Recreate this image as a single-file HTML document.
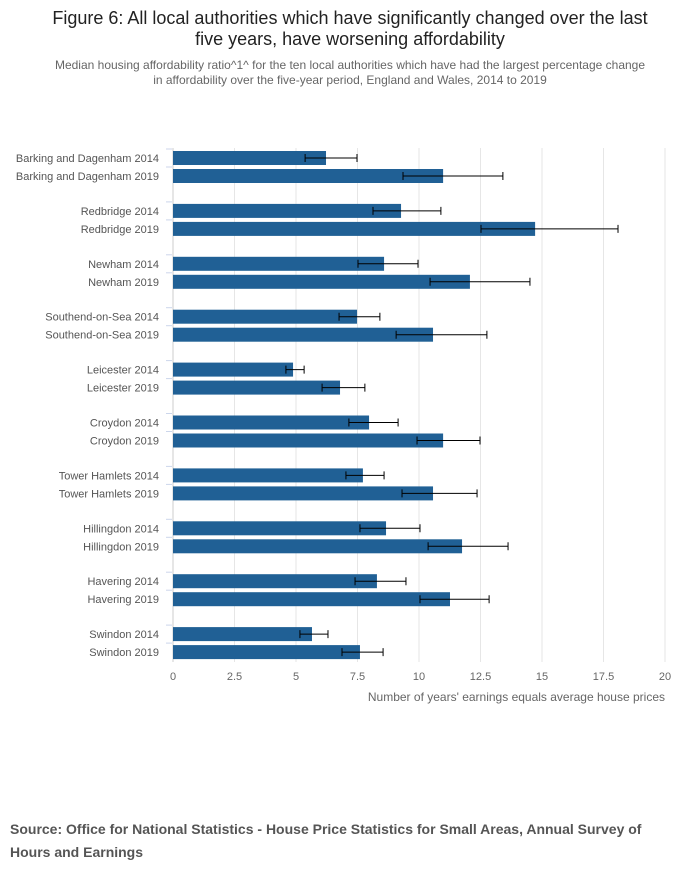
<!DOCTYPE html>
<html><head><meta charset="utf-8"><style>
body{margin:0;background:#fff;font-family:"Liberation Sans",sans-serif;}
#wrap{position:relative;width:700px;height:882px;overflow:hidden;}
</style></head><body>
<div id="wrap">
<svg id="chart" width="700" height="882">
<text x="350" y="24" text-anchor="middle" font-size="18" fill="#222">Figure 6: All local authorities which have significantly changed over the last</text>
<text x="350" y="45" text-anchor="middle" font-size="18" fill="#222">five years, have worsening affordability</text>
<text x="350" y="69" text-anchor="middle" font-size="12" fill="#666">Median housing affordability ratio^1^ for the ten local authorities which have had the largest percentage change</text>
<text x="350" y="84" text-anchor="middle" font-size="12" fill="#666">in affordability over the five-year period, England and Wales, 2014 to 2019</text>
<g id="grid"></g><g id="bars"></g><g id="labels"></g>
<text x="665" y="701" text-anchor="end" font-size="12" fill="#666">Number of years' earnings equals average house prices</text>
<text x="10" y="834" font-size="14" font-weight="bold" fill="#555">Source: Office for National Statistics - House Price Statistics for Small Areas, Annual Survey of</text>
<text x="10" y="857" font-size="14" font-weight="bold" fill="#555">Hours and Earnings</text>
</svg></div>
<script>
const categories=["Barking and Dagenham","Redbridge","Newham","Southend-on-Sea","Leicester","Croydon","Tower Hamlets","Hillingdon","Havering","Swindon"];
const values2014=[6.22,9.27,8.58,7.48,4.88,7.97,7.72,8.66,8.29,5.65];
const low2014=[5.37,8.13,7.52,6.75,4.59,7.15,7.03,7.6,7.4,5.16];
const high2014=[7.48,10.89,9.96,8.41,5.33,9.15,8.58,10.04,9.47,6.3];
const values2019=[10.98,14.72,12.07,10.57,6.79,10.98,10.57,11.75,11.26,7.6];
const low2019=[9.35,12.52,10.45,9.07,6.06,9.92,9.31,10.37,10.04,6.87];
const high2019=[13.41,18.09,14.51,12.76,7.8,12.48,12.36,13.62,12.85,8.54];
const ticks=[0,2.5,5,7.5,10,12.5,15,17.5,20];
const NS="http://www.w3.org/2000/svg";
const x0=173,x1=665,xMax=20;
const X=v=>x0+(x1-x0)*v/xMax;
const Y=(i,k)=>158+i*52.9+k*18;
function mk(t,a,p){const e=document.createElementNS(NS,t);for(const k in a)e.setAttribute(k,a[k]);p.appendChild(e);return e;}
const grid=document.getElementById('grid'),bars=document.getElementById('bars'),labels=document.getElementById('labels');
ticks.forEach(t=>{
 const l=mk('line',{x1:X(t),x2:X(t),y1:148,y2:662,stroke:t===0?'#ccc':'#e6e6e6','stroke-width':1},grid);
 
 
 const tx=mk('text',{x:X(t),y:680,'text-anchor':'middle','font-size':11,fill:'#666'},grid);
 tx.textContent=String(t);
 
 
});
categories.forEach((c,i)=>{
 [[values2014,low2014,high2014,'2014'],[values2019,low2019,high2019,'2019']].forEach((s,k)=>{
  const y=Y(i,k),v=s[0][i];
  const r=mk('rect',{x:x0,y:y-7,width:X(v)-x0,height:14,fill:'#206095'},bars);
  
  
  const lo=X(s[1][i]),hi=X(s[2][i]);
  const e=mk('path',{d:`M${lo},${y}H${hi}M${lo},${y-4}V${y+4}M${hi},${y-4}V${y+4}`,stroke:'#000','stroke-width':1,fill:'none'},bars);
  
  
  const t=mk('text',{x:159,y:y+4,'text-anchor':'end','font-size':11,fill:'#555'},labels);
  t.textContent=c+' '+s[3];
  
  
  const tk=mk('line',{x1:166,x2:172,y1:y-9,y2:y-9,stroke:'#ccd6eb'},labels);
  
  
 });
});
</script>
</body></html>
